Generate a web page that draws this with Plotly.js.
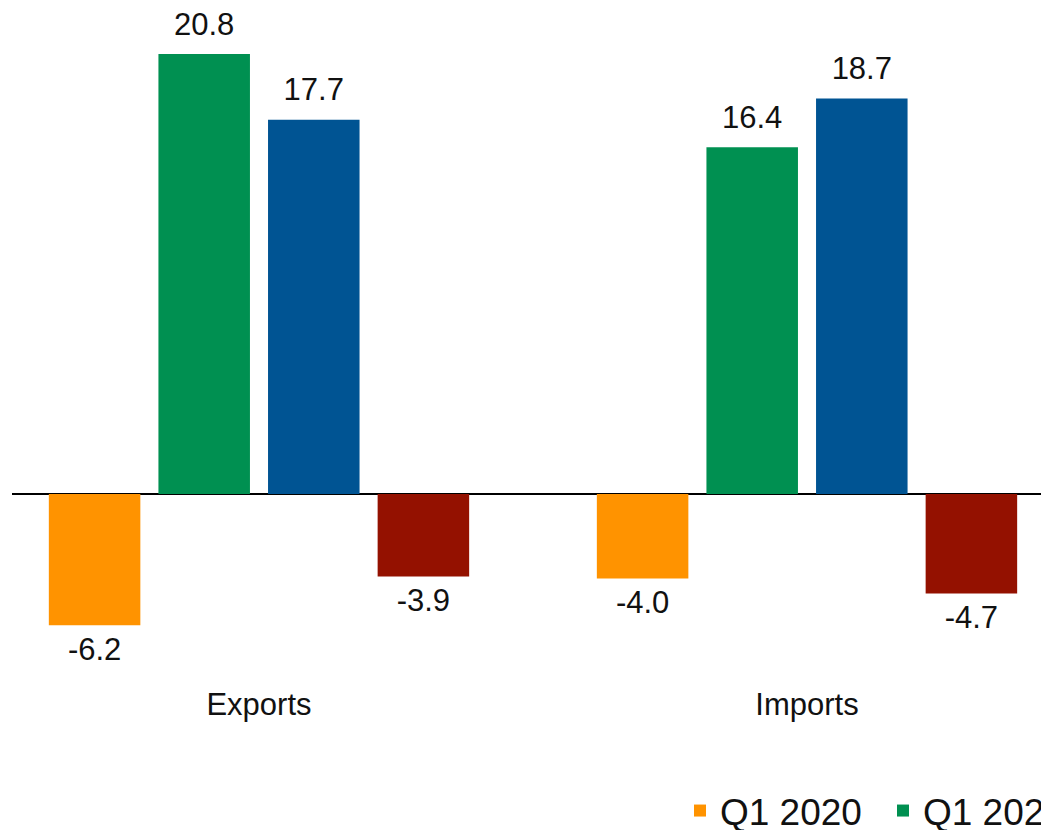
<!DOCTYPE html>
<html>
<head>
<meta charset="utf-8">
<script src="https://cdn.plot.ly/plotly-3.0.1.min.js"></script>
<style>
html, body { margin: 0; padding: 0; overflow: hidden; background: #fff; }
#chart { width: 1041px; height: 830px; }
</style>
</head>
<body>
<div id="chart"></div>
<script>
// Data
var categories = ['Exports', 'Imports'];
var seriesNames = ['Q1 2020', 'Q1 2021', 'Q1 2022', 'Q1 2023'];
var q1_2020 = [-6.2, -4.0];
var q1_2021 = [20.8, 16.4];
var q1_2022 = [17.7, 18.7];
var q1_2023 = [-3.9, -4.7];
var seriesValues = [q1_2020, q1_2021, q1_2022, q1_2023];
var seriesColors = ['#FF9300', '#009051', '#005493', '#941100'];

var FONT = '"Liberation Sans", Arial, Helvetica, sans-serif';

var barTraces = seriesValues.map(function (vals, i) {
  return {
    type: 'bar',
    name: seriesNames[i],
    x: categories,
    y: vals,
    marker: { color: seriesColors[i], line: { width: 0 } },
    hoverinfo: 'skip'
  };
});

// value labels: invisible grouped scatter points carrying the text
var labelTraces = seriesValues.map(function (vals, i) {
  return {
    type: 'scatter',
    mode: 'markers+text',
    name: seriesNames[i] + ' labels',
    showlegend: false,
    x: categories,
    y: vals,
    text: vals.map(function (v) { return v.toFixed(1); }),
    textposition: vals.map(function (v) { return v >= 0 ? 'top center' : 'bottom center'; }),
    textfont: { family: FONT, size: 31, color: '#111111' },
    marker: { size: 17, opacity: 0, color: seriesColors[i] },
    cliponaxis: false,
    hoverinfo: 'skip'
  };
});

var layout = {
  width: 1041,
  height: 830,
  margin: { l: 12, r: 0, t: 0, b: 147, autoexpand: false },
  paper_bgcolor: '#ffffff',
  plot_bgcolor: '#ffffff',
  barmode: 'group',
  bargap: 0.2,
  bargroupgap: 0.165,
  scattermode: 'group',
  scattergap: 0.2,
  font: { family: FONT, color: '#111111' },
  xaxis: {
    type: 'category',
    range: [-0.4507, 1.427],
    showgrid: false,
    showline: false,
    zeroline: false,
    ticks: '',
    tickfont: { family: FONT, size: 31, color: '#111111' }
  },
  yaxis: {
    range: [-8.936, 23.357],
    showgrid: false,
    showline: false,
    showticklabels: false,
    ticks: '',
    zeroline: true,
    zerolinecolor: '#000000',
    zerolinewidth: 1.5
  },
  showlegend: true,
  legend: {
    orientation: 'h',
    xref: 'container',
    yref: 'container',
    x: 0.6532,
    xanchor: 'left',
    y: 0.0229,
    yanchor: 'middle',
    font: { family: FONT, size: 37, color: '#111111' },
    entrywidthmode: 'pixels',
    entrywidth: 158,
    bgcolor: 'rgba(0,0,0,0)'
  }
};

Plotly.newPlot('chart', barTraces.concat(labelTraces), layout, { staticPlot: true, displayModeBar: false });
</script>
</body>
</html>
